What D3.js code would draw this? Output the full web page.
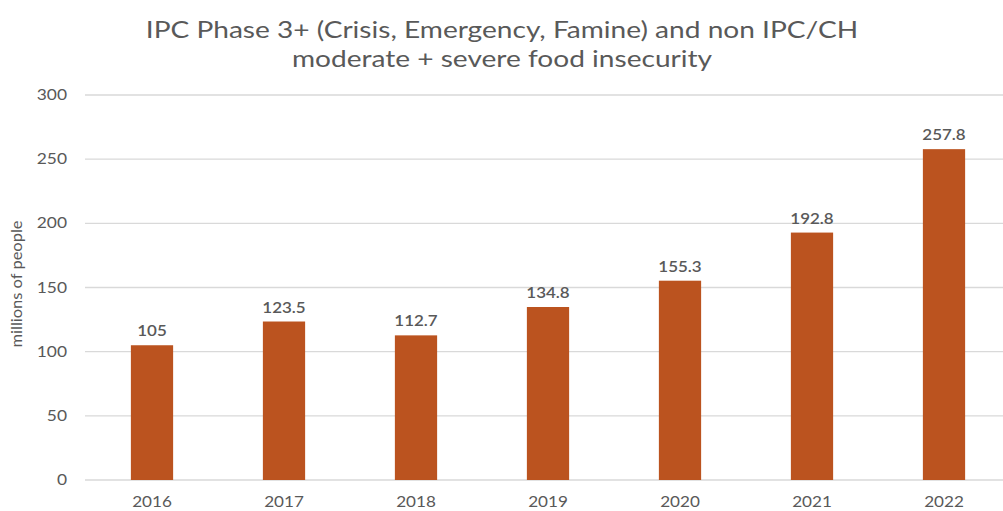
<!DOCTYPE html>
<html><head><meta charset="utf-8">
<script src="https://cdn.jsdelivr.net/npm/d3@7"></script>
<style>body{margin:0;background:#fff}svg{display:block}</style>
</head><body>
<svg id="c" width="1003" height="511"></svg>
<script>
const years = ["2016","2017","2018","2019","2020","2021","2022"];
const values = [105, 123.5, 112.7, 134.8, 155.3, 192.8, 257.8];
const yTicks = [0, 50, 100, 150, 200, 250, 300];
const titleLines = ["IPC Phase 3+ (Crisis, Emergency, Famine) and non IPC/CH", "moderate + severe food insecurity"];
const yLabel = "millions of people";

const svg = d3.select("#c");
const font = "Lato, 'Open Sans', sans-serif";
const textColor = "#595959";
const x = d3.scaleBand().domain(years).range([86, 1010]).paddingInner(0.68).paddingOuter(0.34);
const y = d3.scaleLinear().domain([0, 300]).range([480, 95]);

function stretch(sel, factor) {
  sel.each(function () {
    const w = this.getComputedTextLength();
    this.setAttribute("textLength", w * factor);
    this.setAttribute("lengthAdjust", "spacingAndGlyphs");
  });
}

// gridlines
svg.append("g").selectAll("line").data(yTicks).join("line")
  .attr("x1", 85).attr("x2", 1003)
  .attr("y1", d => y(d)).attr("y2", d => y(d))
  .attr("stroke", "#d9d9d9").attr("stroke-width", 1.3);

// y axis labels
const yAxis = d3.axisLeft(y).tickValues(yTicks).tickSize(0).tickPadding(0);
const ya = svg.append("g").attr("transform", "translate(67,0)").call(yAxis);
ya.select(".domain").remove();
ya.selectAll("text").attr("font-family", font).attr("font-size", 14.5).attr("fill", textColor);
stretch(ya.selectAll("text"), 1.2);

// x axis labels
const xAxis = d3.axisBottom(x).tickSize(0).tickPadding(0);
const xa = svg.append("g").attr("transform", "translate(0,497)").call(xAxis);
xa.select(".domain").remove();
xa.selectAll("text").attr("font-family", font).attr("font-size", 14.5).attr("fill", textColor);
stretch(xa.selectAll("text"), 1.18);

// bars
svg.append("g").selectAll("rect").data(values).join("rect")
  .attr("x", (d, i) => x(years[i]))
  .attr("width", x.bandwidth())
  .attr("y", d => y(d))
  .attr("height", d => y(0) - y(d))
  .attr("fill", "#bb531f");

// data labels
const dl = svg.append("g").selectAll("text").data(values).join("text")
  .attr("x", (d, i) => x(years[i]) + x.bandwidth() / 2)
  .attr("y", d => y(d) - 9)
  .attr("text-anchor", "middle")
  .attr("font-family", font).attr("font-size", 14.5).attr("font-weight", 600)
  .attr("fill", textColor)
  .text(d => d);
stretch(dl, 1.17);

// title
const tl = svg.append("g").selectAll("text").data(titleLines).join("text")
  .attr("x", 502).attr("y", (d, i) => 38 + i * 29)
  .attr("text-anchor", "middle")
  .attr("font-family", font).attr("font-size", 24)
  .attr("fill", textColor)
  .text(d => d);
stretch(tl, 1.17);

// y label
svg.append("text")
  .attr("transform", "translate(22,284) rotate(-90)")
  .attr("text-anchor", "middle")
  .attr("font-family", font).attr("font-size", 15.5)
  .attr("fill", textColor)
  .attr("textLength", 127).attr("lengthAdjust", "spacingAndGlyphs")
  .text(yLabel);
</script>
</body></html>
